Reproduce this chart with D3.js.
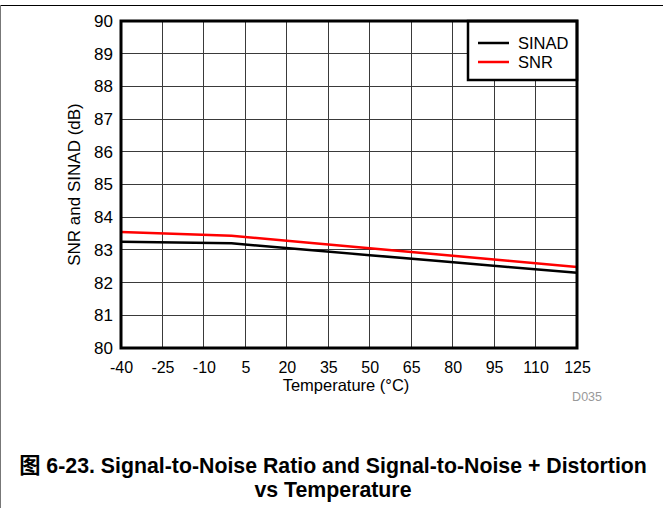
<!DOCTYPE html>
<html>
<head>
<meta charset="utf-8">
<script src="https://cdn.jsdelivr.net/npm/d3@7"></script>
<style>
  body { margin: 0; background: #fff; }
  svg { display: block; font-family: "Liberation Sans", Arial, "Noto Sans CJK SC", sans-serif; }
</style>
</head>
<body>
<svg id="chart" width="663" height="508"></svg>
<script>
// temperature (°C) where values were read
const temps = [-40, 0, 25, 50, 75, 100, 125]
const sinad = [83.25, 83.2, 83.02, 82.84, 82.66, 82.48, 82.3]
const snr = [83.55, 83.43, 83.24, 83.05, 82.86, 82.67, 82.48]

const xTicks = [-40, -25, -10, 5, 20, 35, 50, 65, 80, 95, 110, 125]
const yTicks = [80, 81, 82, 83, 84, 85, 86, 87, 88, 89, 90]

const seriesList = [
  { name: 'SINAD', values: sinad, color: '#000000' },
  { name: 'SNR', values: snr, color: '#ff0000' }
]

let svg = d3.select('#chart')
let plotLeft = 121, plotRight = 577, plotTop = 21, plotBottom = 348

let x = d3.scaleLinear().domain([-40, 125]).range([plotLeft, plotRight])
let y = d3.scaleLinear().domain([80, 90]).range([plotBottom, plotTop])

// page frame
svg.append('line').attr('x1', 0).attr('x2', 663).attr('y1', 5.5).attr('y2', 5.5)
  .attr('stroke', '#000').attr('stroke-width', 1)
svg.append('line').attr('x1', 0.5).attr('x2', 0.5).attr('y1', 5).attr('y2', 508)
  .attr('stroke', '#777').attr('stroke-width', 1)

// grid
let grid = svg.append('g').attr('class', 'grid').attr('shape-rendering', 'crispEdges')
grid.selectAll('line.v').data(xTicks).enter().append('line')
  .attr('x1', d => x(d)).attr('x2', d => x(d))
  .attr('y1', plotTop).attr('y2', plotBottom)
  .attr('stroke', '#3a3a3a').attr('stroke-width', 1)
grid.selectAll('line.h').data(yTicks).enter().append('line')
  .attr('x1', plotLeft).attr('x2', plotRight)
  .attr('y1', d => y(d)).attr('y2', d => y(d))
  .attr('stroke', '#3a3a3a').attr('stroke-width', 1)

// data lines
let line = d3.line()
  .x((d, i) => x(temps[i]))
  .y(d => y(d))

svg.append('g').selectAll('path').data(seriesList).enter().append('path')
  .attr('d', s => line(s.values))
  .attr('fill', 'none')
  .attr('stroke', s => s.color)
  .attr('stroke-width', 2.5)

// axes (labels only)
let xAxis = svg.append('g')
  .attr('transform', `translate(0,${plotBottom})`)
  .call(d3.axisBottom(x).tickValues(xTicks).tickFormat(d => String(d)).tickSize(0).tickPadding(14))
xAxis.select('.domain').remove()
xAxis.selectAll('text').attr('font-size', 16).attr('fill', '#000')
  .style('font-family', '"Liberation Sans", Arial, sans-serif')

let yAxis = svg.append('g')
  .attr('transform', `translate(${plotLeft},0)`)
  .call(d3.axisLeft(y).tickValues(yTicks).tickFormat(d => String(d)).tickSize(0).tickPadding(8))
yAxis.select('.domain').remove()
yAxis.selectAll('text').attr('font-size', 17).attr('fill', '#000')
  .style('font-family', '"Liberation Sans", Arial, sans-serif')

// axis titles
svg.append('text')
  .attr('x', (plotLeft + plotRight) / 2 - 3).attr('y', 391)
  .attr('text-anchor', 'middle').attr('font-size', 16.5)
  .text('Temperature (°C)')

svg.append('text')
  .attr('transform', `translate(80,${(plotTop + plotBottom) / 2}) rotate(-90)`)
  .attr('text-anchor', 'middle').attr('font-size', 17)
  .text('SNR and SINAD (dB)')

svg.append('text')
  .attr('x', 602).attr('y', 401)
  .attr('text-anchor', 'end').attr('font-size', 12.5).attr('fill', '#999')
  .text('D035')

// legend
let legend = svg.append('g')
legend.append('rect')
  .attr('x', 468).attr('y', plotTop).attr('width', plotRight - 468).attr('height', 59)
  .attr('fill', '#fff').attr('stroke', '#000').attr('stroke-width', 2.5)
let items = legend.selectAll('g.item').data(seriesList).enter().append('g')
  .attr('transform', (d, i) => `translate(0,${43 + i * 19})`)
items.append('line')
  .attr('x1', 478).attr('x2', 509).attr('y1', 0).attr('y2', 0)
  .attr('stroke', d => d.color).attr('stroke-width', 2.5)
items.append('text')
  .attr('x', 518).attr('y', 5.5).attr('font-size', 16.5)
  .text(d => d.name)

// plot border, on top of legend
svg.append('rect')
  .attr('x', plotLeft).attr('y', plotTop)
  .attr('width', plotRight - plotLeft).attr('height', plotBottom - plotTop)
  .attr('fill', 'none').attr('stroke', '#000').attr('stroke-width', 3)

// caption
let caption = svg.append('text')
  .attr('text-anchor', 'middle').attr('font-size', 21.3).attr('font-weight', 'bold')
caption.append('tspan').attr('x', 333).attr('y', 473)
  .text('图 6-23. Signal-to-Noise Ratio and Signal-to-Noise + Distortion')
caption.append('tspan').attr('x', 333).attr('y', 497)
  .text('vs Temperature')
</script>
</body>
</html>
